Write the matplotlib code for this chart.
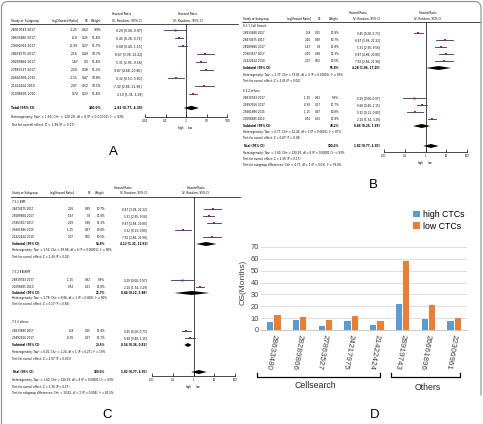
import numpy as np
import matplotlib.pyplot as plt
from matplotlib import font_manager
from matplotlib.lines import Line2D

# study results shared by the three forest plots
study_names = ['28919743 2017', '28633480 2017', '29492916 2017', '28474575 2017',
               '28289866 2017', '27863527 2017', '26661896 2015', '21422424 2010',
               '21098695 2010']
log_hr = [-1.25, -0.8, -0.39, 2.16, 1.67, 2.29, -1.15, 2.07, 0.74]
se = [0.62, 0.25, 0.27, 0.49, 0.3, 0.38, 0.47, 0.52, 0.23]
weight = [9.9, 11.8, 11.7, 10.7, 11.8, 11.3, 10.8, 10.5, 11.8]
hr = [0.29, 0.45, 0.68, 8.67, 5.31, 9.87, 0.32, 7.92, 2.10]
ci_lo = [0.08, 0.28, 0.40, 3.38, 2.95, 4.68, 0.13, 2.86, 1.34]
ci_hi = [0.97, 0.73, 1.15, 22.22, 9.56, 20.80, 0.80, 21.96, 3.29]

total = ('Total (95% CI)', 100.0, 1.82, 0.77, 4.35)
total_het = 'Heterogeneity: Tau² = 1.60; Chi² = 120.29, df = 8 (P < 0.00001); I² = 93%'
total_z = 'Test for overall effect: Z = 1.36 (P = 0.17)'

# panel B subgroups
b_cell = ['28633480 2017', '28474575 2017', '28289866 2017', '27863527 2017', '21422424 2010']
b_cell_sub = ('Subtotal (95% CI)', 55.8, 4.28, 1.06, 17.25)
b_cell_het = 'Heterogeneity: Tau² = 2.37; Chi² = 79.81, df = 4 (P < 0.00001); I² = 95%'
b_cell_z = 'Test for overall effect: Z = 2.05 (P = 0.04)'
b_oth = ['28919743 2017', '29492916 2017', '26661896 2015', '21098695 2010']
b_oth_sub = ('Subtotal (95% CI)', 44.2, 0.66, 0.25, 1.69)
b_oth_het = 'Heterogeneity: Tau² = 0.77; Chi² = 22.45, df = 3 (P < 0.0001); I² = 87%'
b_oth_z = 'Test for overall effect: Z = 0.87 (P = 0.38)'
b_diff = 'Test for subgroup differences: Chi² = 4.77, df = 1 (P = 0.03), I² = 79.0%'

# panel C subgroups
c_g1 = ['28474575 2017', '28289866 2017', '27863527 2017', '26661896 2015', '21422424 2010']
c_g1_sub = ('Subtotal (95% CI)', 54.8, 4.13, 1.32, 12.91)
c_g1_het = 'Heterogeneity: Tau² = 1.51; Chi² = 39.98, df = 4 (P < 0.00001); I² = 90%'
c_g1_z = 'Test for overall effect: Z = 2.44 (P = 0.01)'
c_g2 = ['28919743 2017', '21098695 2010']
c_g2_sub = ('Subtotal (95% CI)', 21.7, 0.84, 0.12, 5.88)
c_g2_het = 'Heterogeneity: Tau² = 1.78; Chi² = 9.86, df = 1 (P = 0.002); I² = 90%'
c_g2_z = 'Test for overall effect: Z = 0.17 (P = 0.86)'
c_g3 = ['28633480 2017', '29492916 2017']
c_g3_sub = ('Subtotal (95% CI)', 23.5, 0.54, 0.36, 0.81)
c_g3_het = 'Heterogeneity: Tau² = 0.02; Chi² = 1.24, df = 1 (P = 0.27); I² = 19%'
c_g3_z = 'Test for overall effect: Z = 2.97 (P = 0.003)'
c_diff = 'Test for subgroup differences: Chi² = 10.82, df = 2 (P = 0.004), I² = 81.5%'

# panel D
d_ids = ['28633480', '28289866', '27863527', '24217975', '21422424', '28919743', '26661896', '22306961']
d_high = [6.4, 8.1, 3.6, 7.8, 3.9, 21.8, 9.0, 7.8]
d_low = [12.6, 11.2, 8.1, 12.0, 7.8, 58.3, 21.0, 9.8]

W, H = 483, 424
fig = plt.figure(figsize=(W / 100, H / 100), dpi=100)

names = {f.name for f in font_manager.fontManager.ttflist}
if 'Liberation Sans Narrow' in names:
    narrow, fscale = 'Liberation Sans Narrow', 1.0
else:
    narrow, fscale = 'DejaVu Sans', 0.72
sans = 'Liberation Sans' if 'Liberation Sans' in names else 'DejaVu Sans'


def txt(x, y, s, size, ha='left', **kw):
    fig.text(x / W, 1 - y / H, s, fontsize=size * fscale, ha=ha, va='center',
             family=narrow, **kw)


def fline(xs, ys, **kw):
    fig.add_artist(Line2D([x / W for x in xs], [1 - y / H for y in ys], **kw))


def forest(box, cols, items, size, header_y, dh=2.2):
    left, right, top, bottom = box
    fline([cols[0] - 1, cols[6]], [top, top], color='black', lw=0.5)
    txt((cols[4] + cols[1]) / 2 + 12, header_y[0], 'Hazard Ratio', size, 'center')
    txt(cols[0], header_y[1], 'Study or Subgroup', size)
    txt(cols[1], header_y[1], 'log[Hazard Ratio]', size, 'right')
    txt(cols[2], header_y[1], 'SE', size, 'right')
    txt(cols[3], header_y[1], 'Weight', size, 'right')
    txt(cols[4], header_y[1], 'IV, Random, 95% CI', size, 'right')
    null_x = (left + right) / 2
    txt(null_x + 2, header_y[0], 'Hazard Ratio', size, 'center')
    txt(null_x + 2, header_y[1], 'IV, Random, 95% CI', size, 'center')

    ax = fig.add_axes([left / W, 1 - bottom / H, (right - left) / W, (bottom - top) / H])
    ax.patch.set_alpha(0)
    ax.set_xscale('log')
    ax.set_xlim(0.01, 100)
    ax.set_ylim(bottom, top)
    ax.axvline(1, color='black', lw=0.5)
    for y, kind, d in items:
        if kind in ('head', 'note'):
            txt(cols[0], y, d, size)
        elif kind == 'study':
            i = study_names.index(d)
            txt(cols[0], y, d, size)
            txt(cols[1], y, str(log_hr[i]), size, 'right')
            txt(cols[2], y, str(se[i]), size, 'right')
            txt(cols[3], y, f'{weight[i]:.1f}%', size, 'right')
            txt(cols[4], y, f'{hr[i]:.2f} [{ci_lo[i]:.2f}, {ci_hi[i]:.2f}]', size, 'right')
            ax.plot([ci_lo[i], ci_hi[i]], [y, y], color='#2b2f6b', lw=0.6)
            ax.plot(hr[i], y, 's', ms=weight[i] / 7, color='#b3202c', mew=0)
        elif kind == 'pooled':
            label, wt, est, lo, hi = d
            txt(cols[0], y, label, size, weight='bold')
            txt(cols[3], y, f'{wt:.1f}%', size, 'right', weight='bold')
            txt(cols[4], y, f'{est:.2f} [{lo:.2f}, {hi:.2f}]', size, 'right', weight='bold')
            ax.fill([lo, est, hi, est], [y, y - dh, y, y + dh], color='black', lw=0)
    ax.set_yticks([])
    for s in ['top', 'left', 'right']:
        ax.spines[s].set_visible(False)
    ax.spines['bottom'].set_linewidth(0.5)
    ax.set_xticks([0.01, 0.1, 1, 10, 100], ['0.01', '0.1', '1', '10', '100'])
    ax.minorticks_off()
    ax.tick_params(axis='x', length=2.5, width=0.5, direction='in', pad=1.2,
                   labelsize=size * fscale * 0.95)
    for lab in ax.get_xticklabels():
        lab.set_family(narrow)
    txt(null_x - 1.5, bottom + 11, 'high', size, 'right')
    txt(null_x + 2, bottom + 11, 'low', size)


# panel A
items_a = [(30 + 8 * i, 'study', n) for i, n in enumerate(study_names)]
items_a += [(108, 'pooled', total), (117, 'note', total_het), (125, 'note', total_z)]
forest((145, 227, 24, 117), [11, 78, 89, 101, 142, 0, 238], items_a, 3.0, (14, 21))

# panel B
items_b = [(26, 'head', '6.1.1 Cell Search')]
items_b += [(33 + 7 * i, 'study', n) for i, n in enumerate(b_cell)]
items_b += [(68, 'pooled', b_cell_sub), (75, 'note', b_cell_het), (81, 'note', b_cell_z),
            (91, 'head', '6.1.2 others')]
items_b += [(98 + 7 * i, 'study', n) for i, n in enumerate(b_oth)]
items_b += [(126, 'pooled', b_oth_sub), (132, 'note', b_oth_het), (138, 'note', b_oth_z),
            (146, 'pooled', total), (153, 'note', total_het), (159, 'note', total_z),
            (165, 'note', b_diff)]
forest((384, 467, 22, 152), [243, 311, 321, 339, 380, 0, 480], items_b, 2.75, (13, 19), 2.0)

# panel C
items_c = [(202, 'head', '7.5.1 BMF')]
items_c += [(209 + 7 * i, 'study', n) for i, n in enumerate(c_g1)]
items_c += [(244, 'pooled', c_g1_sub), (250, 'note', c_g1_het), (257, 'note', c_g1_z),
            (272, 'head', '7.5.2 Ⅱ Ⅲ BMF')]
items_c += [(280 + 7 * i, 'study', n) for i, n in enumerate(c_g2)]
items_c += [(293, 'pooled', c_g2_sub), (298, 'note', c_g2_het), (304, 'note', c_g2_z),
            (322, 'head', '7.5.3 others')]
items_c += [(331 + 7 * i, 'study', n) for i, n in enumerate(c_g3)]
items_c += [(345, 'pooled', c_g3_sub), (352, 'note', c_g3_het), (359, 'note', c_g3_z),
            (372, 'pooled', total), (380, 'note', total_het), (387, 'note', total_z),
            (393, 'note', c_diff)]
forest((152, 235, 197, 376), [12, 74, 91, 105, 147, 0, 240], items_c, 2.75, (188, 193), 2.0)

# panel D
ax = fig.add_axes([261 / W, 1 - 330 / H, (467 - 261) / W, (330 - 247) / H])
x = np.arange(len(d_ids))
ax.bar(x - 0.14, d_high, 0.25, color='#5b9bd5', label='high CTCs')
ax.bar(x + 0.14, d_low, 0.25, color='#ed7d31', label='low CTCs')
ax.set_xlim(-0.5, 7.5)
ax.set_ylim(0, 70)
ax.set_yticks(range(0, 71, 10))
ax.yaxis.grid(True, color='#d9d9d9', lw=0.6)
ax.set_axisbelow(True)
for s in ['top', 'left', 'right']:
    ax.spines[s].set_visible(False)
ax.spines['bottom'].set_color('#bfbfbf')
ax.spines['bottom'].set_linewidth(0.6)
ax.tick_params(axis='y', length=0, labelsize=5.4, labelcolor='#404040', pad=1.5)
ax.set_xticks(x, d_ids, rotation=-100, rotation_mode='anchor', ha='left', va='center',
              fontsize=5.8, color='#404040')
ax.tick_params(axis='x', length=0, pad=3)
for lab in ax.get_xticklabels() + ax.get_yticklabels():
    lab.set_family(sans)
ax.legend(loc='upper left', bbox_to_anchor=(413 / W, 1 - 210 / H), bbox_transform=fig.transFigure,
          frameon=False, prop={'family': sans, 'size': 6.3}, handlelength=0.8, handleheight=0.8,
          handletextpad=0.3, labelspacing=0.3, borderpad=0, borderaxespad=0)
fig.text(243 / W, 1 - 282 / H, 'OS(Months)', rotation=90, ha='center', va='center',
         fontsize=6.0, color='#404040', family=sans)

# group brackets under panel D
fline([257, 257, 380, 380], [373, 377, 377, 373], color='black', lw=0.9)
fline([391, 391, 460, 460], [373, 377, 377, 373], color='black', lw=0.9)
fig.text(315 / W, 1 - 386 / H, 'Cellsearch', ha='center', va='center', fontsize=6.3,
         color='#262626', family=sans)
fig.text(428 / W, 1 - 387 / H, 'Others', ha='center', va='center', fontsize=6.3,
         color='#262626', family=sans)

# panel letters
for lx, ly, s in [(113, 152, 'A'), (373, 185, 'B'), (107, 415, 'C'), (375, 415, 'D')]:
    fig.text(lx / W, 1 - ly / H, s, ha='center', va='center', fontsize=9.5, family=sans)

# outer frame
t = np.linspace(0, np.pi / 2, 10)
fx = list(1.5 + 6 - 6 * np.sin(t[::-1])) + list(475 + 6 * np.sin(t))
fy = list(1.5 + 6 - 6 * np.cos(t[::-1])) + list(1.5 + 6 - 6 * np.cos(t))
fline([1.5] + fx + [481], [424] + fy + [395], color='#8c8c8c', lw=0.8)

fig.savefig('out.png', dpi=100)
